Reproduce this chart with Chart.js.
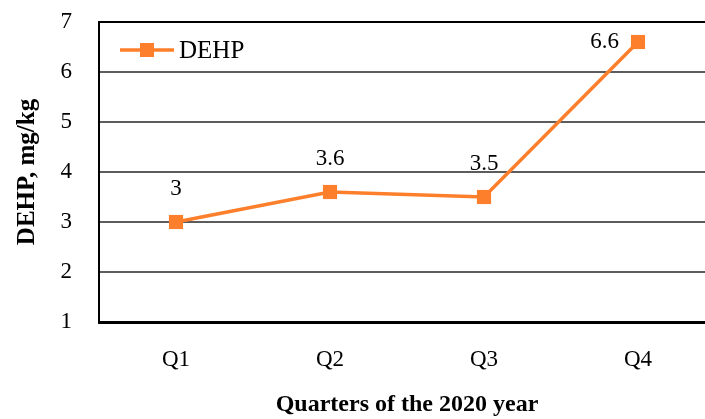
<!DOCTYPE html>
<html>
<head>
<meta charset="utf-8">
<script src="https://cdn.jsdelivr.net/npm/chart.js@4"></script>
<style>
    html, body { margin: 0; padding: 0; background: #fff; overflow: hidden; }
    #wrap { width: 705px; height: 419px; overflow: hidden; }
</style>
</head>
<body>
<div id="wrap"><canvas id="chart1" width="725" height="419"></canvas></div>
<script>
const quarters = ["Q1", "Q2", "Q3", "Q4"]
const dehp = [3, 3.6, 3.5, 6.6]
const yTicks = [1, 2, 3, 4, 5, 6, 7]

const orange = "#FD7F2C"
const serif = "'Liberation Serif', 'DejaVu Serif', serif"

// where each value label sits relative to its point
const labelSide = ["above", "above", "above", "left"]

const valueLabels = {
    id: "valueLabels",
    afterDatasetsDraw(chart) {
        const ctx = chart.ctx
        const meta = chart.getDatasetMeta(0)
        ctx.save()
        ctx.font = "23px " + serif
        ctx.fillStyle = "#000"
        meta.data.forEach((pt, i) => {
            const txt = String(dehp[i])
            ctx.textBaseline = "middle"
            if (labelSide[i] === "left") {
                ctx.textAlign = "right"
                ctx.fillText(txt, pt.x - 19, pt.y)
            } else {
                ctx.textAlign = "center"
                ctx.fillText(txt, pt.x, pt.y - 33)
            }
        })
        ctx.restore()
    }
}

const lineLegend = {
    id: "lineLegend",
    afterDraw(chart) {
        const ctx = chart.ctx
        const a = chart.chartArea
        const ds = chart.data.datasets[0]
        const y = a.top + 28
        const x0 = a.left + 21
        ctx.save()
        ctx.strokeStyle = ds.borderColor
        ctx.lineWidth = 3.5
        ctx.beginPath()
        ctx.moveTo(x0, y)
        ctx.lineTo(x0 + 54, y)
        ctx.stroke()
        ctx.fillStyle = ds.backgroundColor
        ctx.fillRect(x0 + 20, y - 7, 14, 14)
        ctx.fillStyle = "#000"
        ctx.font = "25px " + serif
        ctx.textAlign = "left"
        ctx.textBaseline = "middle"
        ctx.fillText(ds.label, x0 + 59, y + 1)
        ctx.restore()
    }
}

const chart = {
    "type": "line",
    "data": {
        "labels": quarters,
        "datasets": [{
            "label": "DEHP",
            "data": dehp,
            "borderColor": orange,
            "backgroundColor": orange,
            "borderWidth": 3.5,
            "pointStyle": "rect",
            "pointRadius": 10,
            "pointBorderWidth": 0,
            "tension": 0,
        }]
    },
    "options": {
        "responsive": false,
        "animation": false,
        "layout": {
            "padding": { "top": 22, "right": 10, "bottom": 0, "left": 13 }
        },
        "scales": {
            "x": {
                "offset": true,
                "afterFit": (scale) => { scale.height = 97 },
                "grid": { "display": false, "drawTicks": false },
                "border": { "color": "#000", "width": 3 },
                "ticks": {
                    "color": "#000",
                    "padding": 24,
                    "font": { "family": serif, "size": 23 }
                },
                "title": {
                    "display": true,
                    "text": "Quarters of the 2020 year",
                    "color": "#000",
                    "padding": { "top": 0, "bottom": 0 },
                    "font": { "family": serif, "size": 24, "weight": "bold" }
                }
            },
            "y": {
                "min": yTicks[0],
                "max": yTicks[yTicks.length - 1],
                "afterBuildTicks": (scale) => {
                    scale.ticks = yTicks.map(v => ({ value: v }))
                },
                "afterFit": (scale) => {
                    scale.width = 86
                    scale.paddingTop = 0
                    scale.paddingBottom = 0
                },
                "grid": {
                    "drawTicks": false,
                    "color": (c) => c.tick && c.tick.value === 7 ? "#000" : "#5c5c5c",
                    "lineWidth": 2
                },
                "border": { "color": "#000", "width": 2 },
                "ticks": {
                    "color": "#000",
                    "padding": 27,
                    "font": { "family": serif, "size": 23 }
                },
                "title": {
                    "display": true,
                    "text": "DEHP, mg/kg",
                    "color": "#000",
                    "padding": { "top": 0, "bottom": 0 },
                    "font": { "family": serif, "size": 25, "weight": "bold" }
                }
            }
        },
        "plugins": {
            "legend": { "display": false },
            "tooltip": { "enabled": false }
        }
    },
    "plugins": [valueLabels, lineLegend]
}

const ctx = document.getElementById("chart1").getContext("2d")
new Chart(ctx, chart)
</script>
</body>
</html>
